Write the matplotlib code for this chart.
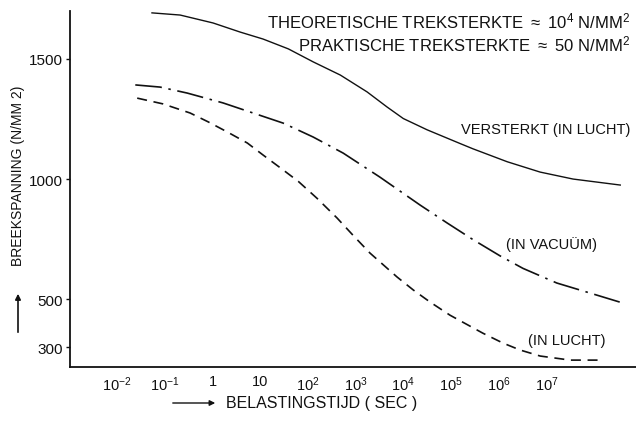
import numpy as np
import matplotlib.pyplot as plt
import matplotlib
from matplotlib.ticker import FixedLocator, NullLocator

matplotlib.rcParams['font.family'] = ['Liberation Sans', 'DejaVu Sans']
matplotlib.rcParams['mathtext.default'] = 'regular'

# log10 of load time (s) and breaking stress (N/mm2)
versterkt_logt = [-1.27, -0.68, 0.01, 0.58, 1.06, 1.59, 2.11, 2.68, 3.24, 3.66,
                  4.00, 4.50, 5.19, 5.46, 6.18, 6.87, 7.56, 8.55]
versterkt_val = [1692, 1683, 1650, 1612, 1583, 1542, 1488, 1433, 1363, 1300,
                 1252, 1205, 1148, 1126, 1072, 1029, 1000, 975]

vacuum_logt = [-1.62, -1.10, -0.53, 0.22, 0.73, 1.48, 2.11, 2.74, 3.51, 4.35,
               4.92, 5.46, 6.03, 6.51, 7.22, 7.92, 8.55]
vacuum_val = [1392, 1383, 1358, 1317, 1283, 1233, 1175, 1108, 1008, 892,
              817, 748, 680, 628, 567, 525, 487]

lucht_logt = [-1.58, -1.04, -0.47, -0.09, 0.31, 0.73, 1.06, 1.48, 1.80, 2.19,
              2.61, 2.95, 3.30, 3.87, 4.21, 4.56, 4.98, 5.67, 6.09, 6.45,
              6.87, 7.50, 8.13]
lucht_val = [1337, 1313, 1275, 1238, 1196, 1150, 1100, 1038, 990, 920,
             838, 765, 692, 592, 538, 488, 433, 358, 317, 288,
             263, 246, 246]

xtick_exp = [-2, -1, 0, 1, 2, 3, 4, 5, 6, 7]
xtick_labels = ['$10^{-2}$', '$10^{-1}$', '1', '10', '$10^{2}$', '$10^{3}$',
                '$10^{4}$', '$10^{5}$', '$10^{6}$', '$10^{7}$']
yticks = [300, 500, 1000, 1500]

fig = plt.figure(figsize=(6.36, 4.27), dpi=100)
ax = fig.add_axes([0.110, 0.138, 0.89, 0.834])

ink = '#111111'
ax.plot(10 ** np.array(versterkt_logt), versterkt_val, color=ink, lw=1.0)
ax.plot(10 ** np.array(vacuum_logt), vacuum_val, color=ink, lw=1.2,
        linestyle=(0, (16, 4, 1.5, 4)))
ax.plot(10 ** np.array(lucht_logt), lucht_val, color=ink, lw=1.2,
        linestyle=(0, (6, 4)))

ax.set_xscale('log')
ax.set_xlim(10 ** -2.99, 10 ** 8.88)
ax.set_ylim(217, 1700)

ax.xaxis.set_major_locator(FixedLocator([10.0 ** e for e in xtick_exp]))
ax.xaxis.set_minor_locator(NullLocator())
ax.set_xticklabels(xtick_labels)
ax.set_yticks(yticks)
ax.set_yticklabels([str(v) for v in yticks])
ax.tick_params(axis='x', length=0, pad=5, labelsize=10.5, colors=ink)
ax.tick_params(axis='y', length=3, width=1, pad=2, labelsize=11, colors=ink)

for s in ['top', 'right']:
    ax.spines[s].set_visible(False)
for s in ['left', 'bottom']:
    ax.spines[s].set_linewidth(1.3)
    ax.spines[s].set_color(ink)

W, H = 636.0, 427.0
fig.text(630 / W, 1 - 21 / H, r'THEORETISCHE TREKSTERKTE $\approx$ 10$^4$ N/MM$^2$',
         ha='right', va='center', fontsize=12, color=ink)
fig.text(630 / W, 1 - 44 / H, r'PRAKTISCHE TREKSTERKTE $\approx$ 50 N/MM$^2$',
         ha='right', va='center', fontsize=12, color=ink)
fig.text(630 / W, 1 - 130 / H, 'VERSTERKT (IN LUCHT)', ha='right', va='center',
         fontsize=10.5, color=ink)
fig.text(597 / W, 1 - 245 / H, '(IN VACUÜM)', ha='right', va='center',
         fontsize=10.5, color=ink)
fig.text(606 / W, 1 - 341 / H, '(IN LUCHT)', ha='right', va='center',
         fontsize=10.5, color=ink)

fig.text(18 / W, 1 - 176 / H, 'BREEKSPANNING (N/MM 2)', rotation=90,
         ha='center', va='center', fontsize=10, color=ink)
ax.annotate('', xy=(18 / W, 1 - 292 / H), xytext=(18 / W, 1 - 336 / H),
            xycoords='figure fraction', textcoords='figure fraction',
            arrowprops=dict(arrowstyle='-|>', color=ink, lw=1.2, mutation_scale=8))

fig.text(226 / W, 1 - 404 / H, 'BELASTINGSTIJD ( SEC )', ha='left', va='center',
         fontsize=11.5, color=ink)
ax.annotate('', xy=(218 / W, 1 - 404 / H), xytext=(170 / W, 1 - 404 / H),
            xycoords='figure fraction', textcoords='figure fraction',
            arrowprops=dict(arrowstyle='-|>', color=ink, lw=1.0, mutation_scale=8))

fig.savefig('out.png', dpi=100)
